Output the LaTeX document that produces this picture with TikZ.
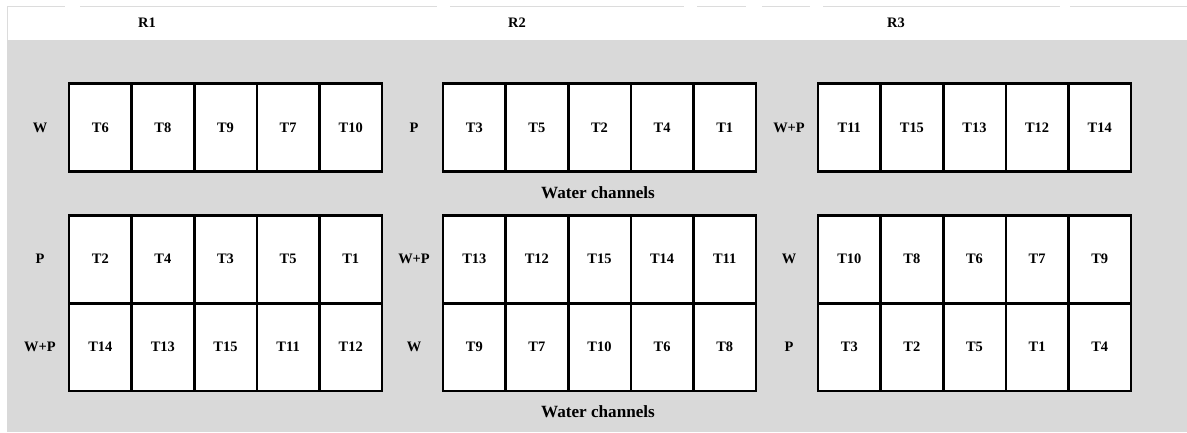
\documentclass[tikz,border=0pt]{standalone}
\usepackage{fontspec}
\setmainfont{Liberation Serif}
\definecolor{bggrey}{RGB}{217,217,217}
\definecolor{edgegrey}{RGB}{220,220,220}
\begin{document}
\begin{tikzpicture}[x=1bp,y=-1bp,
  cell/.style={draw=black,line width=2.6bp,fill=white,minimum width=62.6bp,minimum height=87.6bp,inner sep=0pt,outer sep=0pt,font=\bfseries\fontsize{14.5}{16}\selectfont},
  lab/.style={font=\bfseries\fontsize{14.5}{16}\selectfont,inner sep=0pt},
  chan/.style={font=\bfseries\fontsize{17.2}{19}\selectfont,inner sep=0pt}]
\useasboundingbox (0,0) rectangle (1187,432);
\fill[white] (0,0) rectangle (1187,432);
\fill[bggrey] (7,40) rectangle (1187,432);
\draw[edgegrey,line width=0.8bp] (7,40) -- (7,6) -- (65,6) (80,6) -- (437,6) (450,6) -- (684,6) (697,6) -- (746,6) (762,6) -- (810,6) (823,6) -- (1060,6) (1070,6) -- (1187,6);
% headers
\node[lab] (r1) at (147,23) {R1};
\node[lab] (r2) at (517,23) {R2};
\node[lab] (r3) at (896,23) {R3};
% top row blocks
\foreach \bx/\blab/\cells [count=\b] in {69/W/{T6,T8,T9,T7,T10}, 443/P/{T3,T5,T2,T4,T1}, 818/W+P/{T11,T15,T13,T12,T14}}{
  \node[lab] (tl\b) at (\bx-29,127.5) {\blab};
  \foreach \t [count=\i] in \cells {
    \node[cell] (t\b\i) at ({\bx+31.3+62.6*(\i-1)},127.5) {\t};
  }
}
% bottom rows
\foreach \bx/\blab/\cells [count=\b] in {69/P/{T2,T4,T3,T5,T1}, 443/W+P/{T13,T12,T15,T14,T11}, 818/W/{T10,T8,T6,T7,T9}}{
  \node[lab] (ml\b) at (\bx-29,259) {\blab};
  \foreach \t [count=\i] in \cells {
    \node[cell] (m\b\i) at ({\bx+31.3+62.6*(\i-1)},259) {\t};
  }
}
\foreach \bx/\blab/\cells [count=\b] in {69/W+P/{T14,T13,T15,T11,T12}, 443/W/{T9,T7,T10,T6,T8}, 818/P/{T3,T2,T5,T1,T4}}{
  \node[lab] (bl\b) at (\bx-29,347) {\blab};
  \foreach \t [count=\i] in \cells {
    \node[cell] (b\b\i) at ({\bx+31.3+62.6*(\i-1)},347) {\t};
  }
}
\node[chan] (wc1) at (598,193) {Water channels};
\node[chan] (wc2) at (598,412) {Water channels};
\end{tikzpicture}
\end{document}
